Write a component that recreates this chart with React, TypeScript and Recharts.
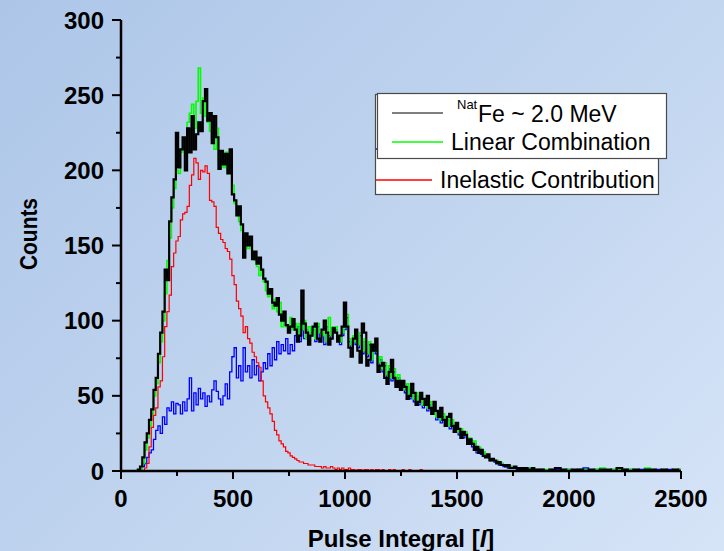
import { LineChart, Line, XAxis, YAxis } from "recharts";

// bin centres: fine 10-unit bins up to 1850, then 25-unit bins in the flat tail
const FINE_START = 60;
const FINE_STEP = 10;
const FINE_BINS = 180;
const TAIL_START = 1875;
const TAIL_STEP = 25;

const natFe = [
  0, 0, 1, 3, 9, 19, 25, 34, 41, 54,
  62, 78, 92, 106, 134, 127, 166, 182, 194, 225,
  202, 214, 222, 200, 228, 212, 236, 214, 224, 232,
  226, 246, 254, 233, 238, 218, 236, 222, 201, 213,
  204, 211, 198, 214, 184, 180, 170, 176, 164, 142,
  158, 150, 156, 141, 146, 138, 142, 134, 128, 126,
  118, 121, 112, 110, 115, 104, 100, 106, 97, 92,
  96, 101, 94, 86, 90, 120, 98, 92, 84, 90,
  96, 98, 88, 86, 94, 100, 92, 84, 88, 95,
  92, 86, 90, 96, 112, 96, 82, 76, 88, 94,
  80, 72, 98, 92, 70, 74, 84, 80, 88, 66,
  70, 72, 62, 58, 66, 74, 62, 56, 60, 54,
  60, 56, 48, 50, 58, 52, 44, 46, 52, 48,
  44, 50, 42, 38, 46, 40, 36, 42, 34, 30,
  36, 38, 30, 26, 32, 28, 22, 26, 24, 18,
  21, 18, 14, 16, 12, 14, 10, 9, 11, 7,
  8, 7, 5, 6, 4, 4, 3, 4, 2, 2,
  3, 2, 1, 2, 1, 2, 1, 1, 2, 1,
  1, 0, 1, 2, 1, 0, 1, 1, 0, 1, 0, 1, 1,
  0, 2, 1, 0, 1, 0, 1, 1, 0, 1, 0, 1, 0,
];

const linearComb = [
  0, 0, 0, 1, 5, 14, 22, 30, 38, 50,
  58, 72, 86, 100, 118, 140, 155, 175, 188, 200,
  198, 212, 220, 215, 232, 238, 244, 228, 246, 268,
  238, 248, 236, 232, 226, 220, 214, 228, 206, 210,
  202, 212, 198, 210, 190, 178, 172, 166, 160, 152,
  150, 148, 152, 146, 140, 136, 130, 134, 126, 120,
  116, 120, 108, 114, 106, 112, 96, 100, 96, 92,
  102, 94, 98, 90, 98, 94, 100, 88, 96, 90,
  96, 88, 98, 92, 90, 96, 86, 102, 90, 96,
  96, 90, 86, 92, 96, 104, 88, 84, 90, 86,
  84, 92, 80, 88, 78, 86, 74, 82, 80, 72,
  76, 68, 72, 64, 70, 62, 68, 60, 64, 58,
  60, 54, 58, 50, 54, 48, 52, 46, 50, 44,
  46, 42, 46, 40, 42, 36, 40, 34, 38, 32,
  36, 30, 34, 28, 32, 26, 28, 24, 26, 22,
  22, 18, 20, 14, 16, 12, 13, 10, 10, 8,
  8, 7, 7, 5, 5, 4, 4, 3, 3, 2,
  2, 2, 2, 1, 2, 1, 1, 2, 1, 1,
  1, 1, 0, 2, 1, 1, 0, 1, 1, 0, 1, 2, 0,
  1, 1, 0, 1, 1, 0, 2, 1, 0, 1, 0, 1, 1,
];

const inelastic = [
  0, 0, 0, 0, 0, 2, 5, 16, 29, 37,
  42, 56, 60, 76, 96, 106, 117, 136, 145, 153,
  156, 167, 171, 172, 176, 190, 197, 208, 205, 194,
  200, 199, 203, 198, 180, 179, 176, 162, 158, 154,
  152, 148, 146, 141, 130, 124, 113, 108, 103, 92,
  96, 88, 85, 79, 76, 72, 69, 60, 50, 46,
  42, 38, 33, 27, 24, 20, 18, 16, 13, 12,
  10, 9, 8, 7, 6, 6, 5, 5, 4, 4,
  4, 3, 3, 3, 2, 3, 2, 2, 3, 2,
  1, 2, 1, 2, 1, 1, 2, 1, 1, 0,
  1, 1, 0, 1, 1, 0, 1, 0, 1, 1,
  0, 1, 0, 0, 1, 0, 1, 0, 0, 0,
  1, 0, 0, 1, 0, 0, 0, 0, 1, 0,
  0, 0, 0, 0, 0, 0, 0, 0, 0, 0,
  0, 0, 0, 0, 0, 0, 0, 0, 0, 0,
  0, 0, 0, 0, 0, 0, 0, 0, 0, 0,
  0, 0, 0, 0, 0, 0, 0, 0, 0, 0,
  0, 0, 0, 0, 0, 0, 0, 0, 0, 0,
  0, 0, 0, 0, 0, 0, 0, 0, 0, 0, 0, 0, 0,
  0, 0, 0, 0, 0, 0, 0, 0, 0, 0, 0, 0, 0,
];

const elastic = [
  0, 0, 0, 1, 3, 5, 9, 12, 14, 21,
  27, 30, 25, 36, 31, 42, 40, 46, 38, 45,
  44, 38, 46, 40, 48, 62, 40, 52, 44, 55,
  48, 52, 43, 50, 46, 54, 60, 53, 48, 44,
  50, 58, 48, 66, 76, 82, 62, 70, 60, 82,
  66, 70, 62, 74, 64, 70, 60, 66, 72, 68,
  78, 70, 82, 74, 86, 78, 84, 80, 88, 78,
  84, 80, 90, 96, 86, 100, 88, 94, 86, 92,
  94, 86, 96, 88, 90, 84, 96, 90, 88, 94,
  94, 88, 84, 90, 94, 102, 86, 82, 88, 84,
  82, 90, 78, 86, 76, 84, 72, 80, 78, 70,
  74, 66, 70, 62, 68, 60, 66, 58, 62, 56,
  58, 52, 56, 48, 52, 46, 50, 44, 48, 42,
  44, 40, 44, 38, 40, 34, 38, 32, 36, 30,
  34, 28, 32, 26, 30, 24, 26, 22, 24, 20,
  20, 16, 18, 12, 15, 11, 12, 9, 9, 7,
  7, 6, 6, 4, 5, 3, 4, 2, 3, 2,
  2, 1, 2, 1, 1, 1, 1, 2, 1, 0,
  1, 0, 1, 1, 0, 1, 0, 1, 2, 0, 1, 1, 0,
  1, 0, 1, 1, 0, 1, 1, 0, 1, 0, 1, 0, 1,
];

const xTicks = [0, 250, 500, 750, 1000, 1250, 1500, 1750, 2000, 2250, 2500];
const yTicks = [0, 25, 50, 75, 100, 125, 150, 175, 200, 225, 250, 275, 300];

const data = natFe.map((v, i) => ({
  pulse: i < FINE_BINS ? FINE_START + i * FINE_STEP : TAIL_START + (i - FINE_BINS) * TAIL_STEP,
  natFe: v,
  linear: linearComb[i],
  inelastic: inelastic[i],
  elastic: elastic[i],
}));

const FONT = "'Liberation Sans', Arial, sans-serif";
const axisStyle = { stroke: "#000", strokeWidth: 2.5 };

const BottomTick = ({ x, y, payload }: any) => {
  const major = payload.value % 500 === 0;
  return (
    <g>
      <line x1={x} x2={x} y1={y} y2={y + (major ? 8 : 5)} stroke="#000" strokeWidth={2} />
      {major && (
        <text x={x} y={y + 36} textAnchor="middle" fontFamily={FONT} fontWeight="bold" fontSize={24} fill="#000">
          {payload.value}
        </text>
      )}
    </g>
  );
};

const TopTick = ({ x, y, payload }: any) => {
  const major = payload.value % 500 === 0;
  return <line x1={x} x2={x} y1={y} y2={y + (major ? 8 : 5)} stroke="#000" strokeWidth={2} />;
};

const LeftTick = ({ x, y, payload }: any) => {
  const major = payload.value % 50 === 0;
  return (
    <g>
      <line x1={x} x2={x - (major ? 9 : 5)} y1={y} y2={y} stroke="#000" strokeWidth={2} />
      {major && (
        <text x={x - 17} y={y + 8.5} textAnchor="end" fontFamily={FONT} fontWeight="bold" fontSize={24} fill="#000">
          {payload.value}
        </text>
      )}
    </g>
  );
};

const RightTick = ({ x, y, payload }: any) => {
  const major = payload.value % 50 === 0;
  return <line x1={x} x2={x - (major ? 9 : 5)} y1={y} y2={y} stroke="#000" strokeWidth={2} />;
};

export default function App() {
  return (
    <div
      style={{
        position: "absolute",
        left: 0,
        top: 0,
        width: 724,
        height: 551,
        background: "linear-gradient(135deg, #adc6e8 0%, #c0d4ef 50%, #d6e4f7 100%)",
      }}
    >
      <LineChart width={724} height={551} data={data} margin={{ top: 20, right: 43, bottom: 0, left: 0 }}>
        <XAxis
          xAxisId="b"
          dataKey="pulse"
          type="number"
          domain={[0, 2500]}
          ticks={xTicks}
          height={80}
          tickSize={0}
          tickMargin={0}
          tickLine={false}
          axisLine={axisStyle}
          tick={BottomTick}
          interval={0}
        />
        <XAxis
          xAxisId="t"
          orientation="top"
          dataKey="pulse"
          type="number"
          domain={[0, 2500]}
          ticks={xTicks}
          height={0}
          tickSize={0}
          tickMargin={0}
          tickLine={false}
          axisLine={axisStyle}
          tick={TopTick}
          interval={0}
        />
        <YAxis
          yAxisId="l"
          type="number"
          domain={[0, 300]}
          ticks={yTicks}
          width={121}
          tickSize={0}
          tickMargin={0}
          tickLine={false}
          axisLine={axisStyle}
          tick={LeftTick}
          interval={0}
        />
        <YAxis
          yAxisId="r"
          orientation="right"
          type="number"
          domain={[0, 300]}
          ticks={yTicks}
          width={0}
          tickSize={0}
          tickMargin={0}
          tickLine={false}
          axisLine={axisStyle}
          tick={RightTick}
          interval={0}
        />
        <Line xAxisId="b" yAxisId="l" type="step" dataKey="elastic" stroke="#0000ff" strokeWidth={1.3} dot={false} isAnimationActive={false} />
        <Line xAxisId="b" yAxisId="l" type="step" dataKey="inelastic" stroke="#ff0000" strokeWidth={1.2} dot={false} isAnimationActive={false} />
        <Line xAxisId="b" yAxisId="l" type="step" dataKey="linear" stroke="#00ff00" strokeWidth={1.6} dot={false} isAnimationActive={false} />
        <Line xAxisId="b" yAxisId="l" type="step" dataKey="natFe" stroke="#000000" strokeWidth={2.2} dot={false} isAnimationActive={false} />
      </LineChart>

      <svg width={724} height={551} style={{ position: "absolute", left: 0, top: 0, pointerEvents: "none" }}>
        {/* axis titles */}
        <text
          transform="translate(37,234) rotate(-90)"
          textAnchor="middle"
          fontFamily={FONT}
          fontWeight="bold"
          fontSize={24}
          textLength={72}
          lengthAdjust="spacingAndGlyphs"
        >
          Counts
        </text>
        <text x={401} y={547} textAnchor="middle" fontFamily={FONT} fontWeight="bold" fontSize={24}>
          Pulse Integral [<tspan fontStyle="italic">I</tspan>]
        </text>

        {/* back legend box */}
        <rect x={375.5} y={94.5} width={283} height={100} fill="#fff" stroke="#4a4a4a" strokeWidth={1.2} />
        <line x1={376} x2={432} y1={149} y2={149} stroke="#0000ff" strokeWidth={1.5} />
        <line x1={376} x2={432} y1={180} y2={180} stroke="#ff0000" strokeWidth={1.5} />
        <text x={440} y={188} fontFamily={FONT} fontSize={23} fill="#000">
          Inelastic Contribution
        </text>

        {/* front legend box */}
        <rect x={377.5} y={93.5} width={289} height={65} fill="#fff" stroke="#4a4a4a" strokeWidth={1.2} />
        <line x1={392} x2={443} y1={113} y2={113} stroke="#000" strokeWidth={1.2} />
        <text x={457} y={109} fontFamily={FONT} fontSize={13} fill="#000">
          Nat
        </text>
        <text x={478} y={122} fontFamily={FONT} fontSize={23} fill="#000">
          Fe ~ 2.0 MeV
        </text>
        <line x1={392} x2={443} y1={142} y2={142} stroke="#00ff00" strokeWidth={1.5} />
        <text x={451} y={150} fontFamily={FONT} fontSize={23} fill="#000">
          Linear Combination
        </text>
      </svg>
    </div>
  );
}
